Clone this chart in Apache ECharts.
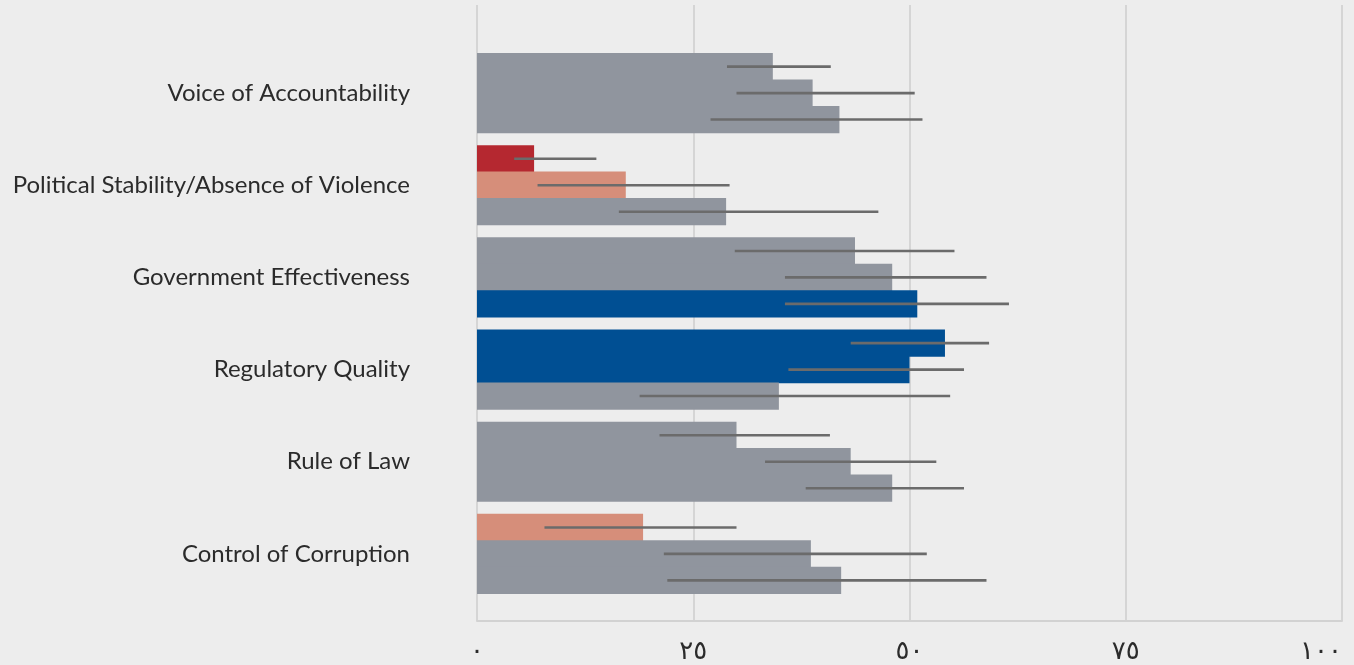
<!DOCTYPE html>
<html>
<head>
<meta charset="utf-8">
<script src="https://cdn.jsdelivr.net/npm/echarts@6/dist/echarts.min.js"></script>
<style>
  html, body { margin: 0; padding: 0; background: #ededed; }
  #chart { width: 1354px; height: 665px; }
</style>
</head>
<body>
<div id="chart"></div>
<script>
const categories = [
  'Voice of Accountability',
  'Political Stability/Absence of Violence',
  'Government Effectiveness',
  'Regulatory Quality',
  'Rule of Law',
  'Control of Corruption'
];
const tickValues = [0, 25, 50, 75, 100];
const tickLabels = ['٠', '٢٥', '٥٠', '٧٥', '١٠٠'];

const values1 = [34.2, 6.6, 43.7, 54.1, 30.0, 19.2];
const low1    = [28.9, 4.3, 29.8, 43.2, 21.1, 7.8];
const high1   = [40.9, 13.8, 55.2, 59.2, 40.8, 30.0];

const values2 = [38.8, 17.2, 48.0, 50.0, 43.2, 38.6];
const low2    = [30.0, 7.0, 35.6, 36.0, 33.3, 21.6];
const high2   = [50.6, 29.2, 58.9, 56.3, 53.1, 52.0];

const values3 = [41.9, 28.8, 50.9, 34.9, 48.0, 42.1];
const low3    = [27.0, 16.4, 35.6, 18.8, 38.0, 22.0];
const high3   = [51.5, 46.4, 61.5, 54.7, 56.3, 58.9];

const FONT = 'Lato, "Open Sans", sans-serif';
const BAR_CAT_GAP = 0.13;
const BAR_GAP = -0.03;
const N_SERIES = 3;

function colorFor(v) {
  if (v < 10) return '#b52830';
  if (v < 25) return '#d68e7a';
  if (v < 50) return '#90959e';
  if (v < 75) return '#004f93';
  return '#002a55';
}

function barSeries(vals) {
  return {
    type: 'bar',
    xAxisIndex: 0,
    yAxisIndex: 0,
    barGap: (BAR_GAP * 100) + '%',
    barCategoryGap: (BAR_CAT_GAP * 100) + '%',
    data: vals.map(v => ({ value: v, itemStyle: { color: colorFor(v) } })),
    z: 2
  };
}

function errSeries(lows, highs, idx) {
  return {
    type: 'custom',
    xAxisIndex: 0,
    yAxisIndex: 0,
    z: 5,
    silent: true,
    data: lows.map((lo, i) => [i, lo, highs[i]]),
    encode: { y: 0, x: [1, 2] },
    renderItem: function (params, api) {
      const cat = api.value(0);
      const p1 = api.coord([api.value(1), cat]);
      const p2 = api.coord([api.value(2), cat]);
      const band = api.size([0, 1])[1];
      const bw = band * (1 - BAR_CAT_GAP) / (N_SERIES + (N_SERIES - 1) * BAR_GAP);
      const step = bw * (1 + BAR_GAP);
      const off = (idx - (N_SERIES - 1) / 2) * step;
      return {
        type: 'line',
        shape: { x1: p1[0], y1: p1[1] + off, x2: p2[0], y2: p2[1] + off },
        style: { stroke: '#6b6b6b', lineWidth: 2.6 }
      };
    }
  };
}

const chart = echarts.init(document.getElementById('chart'), null, { renderer: 'canvas' });
chart.setOption({
  backgroundColor: '#ededed',
  animation: false,
  grid: [
    { left: 477, right: 12, top: 47, bottom: 65, containLabel: false },
    { left: 477, right: 12, top: 5, bottom: 42, containLabel: false }
  ],
  xAxis: [
    { gridIndex: 0, type: 'value', min: 0, max: 100, show: false, splitLine: { show: false } },
    {
      gridIndex: 1, type: 'value', min: 0, max: 100, interval: 25,
      axisLine: { show: true, lineStyle: { color: '#d2d2d2', width: 2 } },
      axisTick: { show: false },
      splitLine: { show: true, lineStyle: { color: '#cdcdcd', width: 1.5 } },
      axisLabel: {
        color: '#2b2b2b', fontSize: 26, margin: 18, fontFamily: '"DejaVu Sans", ' + FONT,
        alignMaxLabel: 'right',
        formatter: function (v) {
          const k = tickValues.indexOf(v);
          return k >= 0 ? tickLabels[k] : '';
        }
      }
    }
  ],
  yAxis: [
    {
      gridIndex: 0, type: 'category', data: categories, inverse: true,
      axisLine: { show: false }, axisTick: { show: false }, splitLine: { show: false },
      axisLabel: { color: '#2b2b2b', fontSize: 24, fontFamily: FONT, margin: 67, padding: [0, 0, 6, 0] }
    },
    { gridIndex: 1, type: 'value', show: false, min: 0, max: 1 }
  ],
  series: [
    barSeries(values1),
    barSeries(values2),
    barSeries(values3),
    errSeries(low1, high1, 0),
    errSeries(low2, high2, 1),
    errSeries(low3, high3, 2)
  ]
});
</script>
</body>
</html>
